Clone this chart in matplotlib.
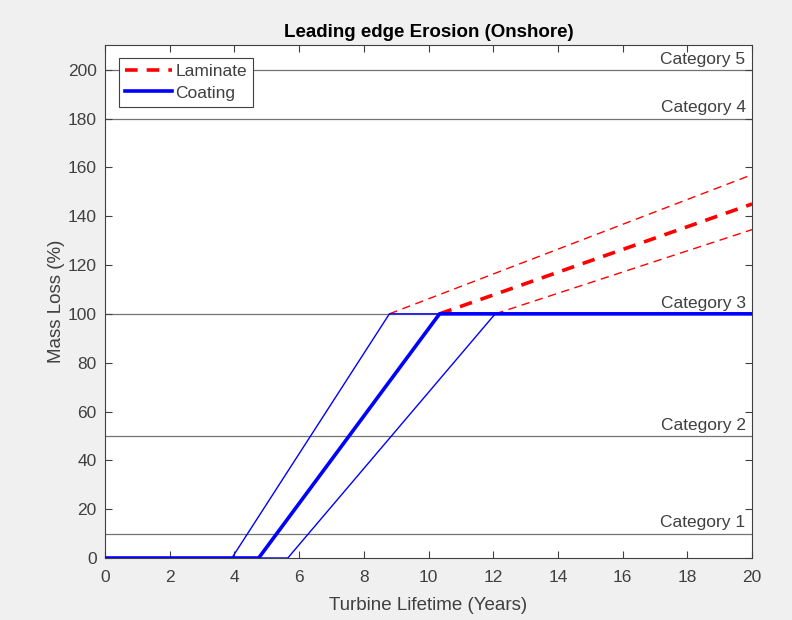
import matplotlib
matplotlib.use("Agg")
from matplotlib import pyplot as plt
import numpy as np

plt.rcParams["font.family"] = ["Liberation Sans", "DejaVu Sans"]

# coating: flat at 0, then linear rise to 100 (lower / mean / upper estimate)
coat_start = [3.92, 4.75, 5.65]
coat_end = [8.79, 10.34, 12.06]
# laminate: continues after coating reaches 100, value at year 20
lam_at_20 = [157, 145, 134.5]
category_levels = [10, 50, 100, 180, 200]
category_names = ["Category 1", "Category 2", "Category 3", "Category 4", "Category 5"]
lifetime = 20

txt = "#404040"
fig = plt.figure(figsize=(7.92, 6.2), dpi=100, facecolor="#f0f0f0")
ax = fig.add_axes([0.1326, 0.1, 0.817, 0.827])

for lvl, name in zip(category_levels, category_names):
    ax.axhline(lvl, color="0.45", lw=0.9, zorder=1)
    ax.text(19.8, lvl + 1.3, name, ha="right", va="bottom", fontsize=12.5, color=txt)

lw_list = [1.0, 2.6, 1.0]
for i in range(3):
    lam_line, = ax.plot([coat_end[i], lifetime], [100, lam_at_20[i]], color="red",
                        ls=(0, (6, 4)) if i != 1 else (0, (3.5, 2.5)), lw=lw_list[i], zorder=2)
    coat_line, = ax.plot([0, coat_start[i], coat_end[i], lifetime], [0, 0, 100, 100],
                         color="blue", lw=lw_list[i], zorder=3)
    if i == 1:
        lam_leg, coat_leg = lam_line, coat_line

ax.set_xlim(0, 20)
ax.set_ylim(0, 210)
ax.set_xticks(np.arange(0, 21, 2))
ax.set_yticks(np.arange(0, 201, 20))
ax.tick_params(direction="in", top=True, right=True, labelsize=12.5, colors=txt, length=5)
ax.tick_params(axis="x", pad=9)
ax.tick_params(axis="y", pad=6)
for s in ax.spines.values():
    s.set_color(txt)
    s.set_linewidth(0.8)
ax.set_xlabel("Turbine Lifetime (Years)", fontsize=13.5, color=txt, labelpad=8)
ax.set_ylabel("Mass Loss (%)", fontsize=13.5, color=txt, labelpad=2)
ax.set_title("Leading edge Erosion (Onshore)", fontsize=13.5, fontweight="bold", color="black", pad=6)

leg = ax.legend([lam_leg, coat_leg], ["Laminate", "Coating"], loc="upper left",
                bbox_to_anchor=(0.0216, 0.975), borderaxespad=0, fontsize=12.5, fancybox=False,
                edgecolor=txt, framealpha=1, handlelength=2.7, handletextpad=0.2,
                borderpad=0.35, labelspacing=0.35)
leg.get_frame().set_linewidth(0.8)
for t in leg.get_texts():
    t.set_color(txt)

fig.savefig("out.png", dpi=100, facecolor=fig.get_facecolor())
